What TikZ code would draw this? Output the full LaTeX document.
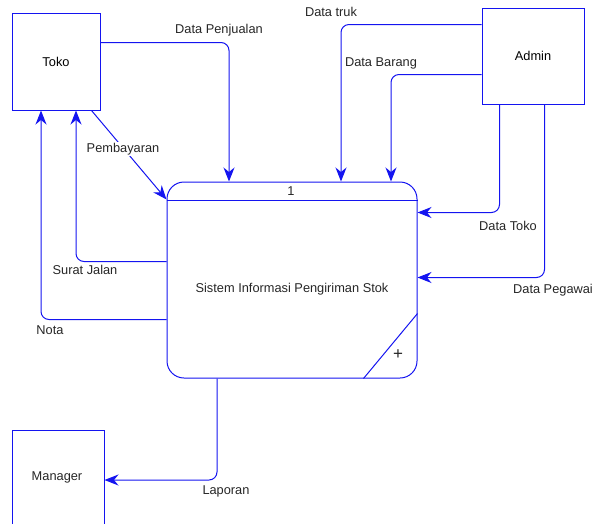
\documentclass[tikz,border=0pt]{standalone}
\usepackage{fontspec}
\setmainfont{Liberation Sans}
\usetikzlibrary{arrows.meta}
\definecolor{dfdblue}{RGB}{20,20,240}
\tikzset{
  entity/.style={draw=dfdblue, line width=1pt, minimum width=88pt, minimum height=97pt, inner sep=0pt},
  flow/.style={draw=dfdblue, line width=1pt, rounded corners=8pt, -{Stealth[length=14pt,width=11pt,inset=4.5pt]}},
  lbl/.style={inner sep=1pt, text=black!85}
}
\begin{document}
\begin{tikzpicture}[x=1pt, y=-1pt, font=\fontsize{12.8}{15}\selectfont]
\useasboundingbox (0,0) rectangle (602,523);
% entities
\node[entity] (toko) at (56,61.5) {Toko};
\node[entity, minimum width=102pt, minimum height=96pt] (admin) at (533,56) {Admin};
\node[entity, minimum width=92pt, minimum height=100pt] (manager) at (58,480) {};
\node[lbl] (managerlbl) at (57,477) {Manager};
% process
\node[draw=dfdblue, line width=1pt, rounded corners=17pt, minimum width=250pt, minimum height=196pt] (proc) at (292,280) {};
\draw[dfdblue, line width=1pt] ([yshift=-19pt]proc.north west) -- ([yshift=-19pt]proc.north east);
\draw[dfdblue, line width=1pt] ([xshift=-54pt]proc.south east) -- ([yshift=65pt]proc.south east);
\node[lbl] (procid) at (291,191) {1};
\node[lbl] (procname) at (292,289) {Sistem Informasi Pengiriman Stok};
\node[lbl, font=\fontsize{17}{17}\selectfont] (procplus) at (398,355) {+};
% flows
\draw[flow] ([yshift=-30pt]toko.north east) -| ([xshift=-63pt]proc.north);
\draw[flow] ([yshift=-17pt]admin.north west) -| ([xshift=49pt]proc.north);
\draw[flow] ([yshift=-67pt]admin.north west) -| ([xshift=99pt]proc.north);
\draw[flow] ([xshift=18pt]admin.south west) |- ([yshift=-31pt]proc.north east);
\draw[flow] ([xshift=63pt]admin.south west) |- ([yshift=-96pt]proc.north east);
\draw[flow] ([yshift=-80pt]proc.north west) -| ([xshift=20pt]toko.south);
\draw[flow] ([yshift=-138pt]proc.north west) -| ([xshift=-15pt]toko.south);
\draw[flow] ([xshift=-75pt]proc.south) |- (manager.east);
\draw[flow] ([xshift=-9pt]toko.south east) -- ([yshift=-18pt]proc.north west);
% labels
\node[lbl] (lpenjualan) at (219,30) {Data Penjualan};
\node[lbl, fill=white] (lbayar) at (123,149) {Pembayaran};
\node[lbl] (ljalan) at (85,270) {Surat Jalan};
\node[lbl] (lnota) at (50,330) {Nota};
\node[lbl] (ltruk) at (331,12) {Data truk};
\node[lbl] (lbarang) at (381,63) {Data Barang};
\node[lbl] (ltoko) at (508,226) {Data Toko};
\node[lbl] (lpegawai) at (553,290) {Data Pegawai};
\node[lbl] (llaporan) at (226,491) {Laporan};
\end{tikzpicture}
\end{document}
